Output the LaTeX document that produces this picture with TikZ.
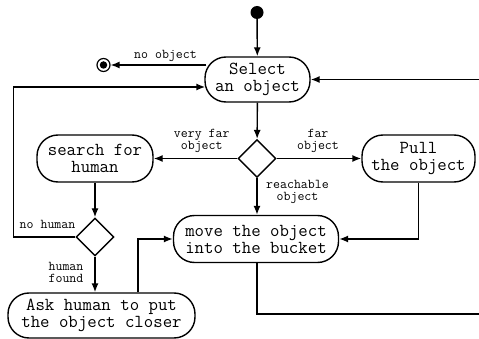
\documentclass[tikz,border=0pt]{standalone}
\usetikzlibrary{shapes.geometric,arrows.meta,calc}
\begin{document}
\begin{tikzpicture}[x=1pt,y=-1pt,
 act/.style={draw,line width=1.4pt,rounded corners=21pt,align=center,font=\ttfamily\fontsize{18.3}{17}\selectfont,inner sep=0pt},
 dec/.style={draw,diamond,line width=1.4pt,minimum width=38pt,minimum height=38pt,inner sep=0pt},
 lab/.style={font=\ttfamily\fontsize{13.5}{12}\selectfont,align=center,inner sep=0pt},
 arr/.style={line width=1.4pt,-{Latex[length=9pt,width=7pt]}},
 con/.style={line width=1.4pt}]
\useasboundingbox (0,0) rectangle (479,339);
\clip (0,0) rectangle (479,339);

\node[circle,fill,inner sep=0pt,minimum size=13pt] (start) at (257,12.5) {};
\node[circle,draw,line width=1.2pt,inner sep=0pt,minimum size=13pt] (endn) at (103.5,65) {};
\node[circle,fill,inner sep=0pt,minimum size=7.5pt] (endin) at (endn) {};

\node[act,minimum width=105pt,minimum height=45pt] (select) at (257.5,79.5) {Select\\an object};
\node[dec] (d1) at (257,158.5) {};
\node[act,minimum width=116pt,minimum height=47pt] (search) at (95,158.5) {search for\\human};
\node[act,minimum width=113pt,minimum height=47pt] (pull) at (418.5,158.5) {Pull\\the object};
\node[act,minimum width=165pt,minimum height=47pt] (move) at (256,239) {move the object\\into the bucket};
\node[dec] (d2) at (95,237) {};
\node[act,minimum width=187pt,minimum height=45pt] (ask) at (101.5,315.5) {Ask human to put\\the object closer};

\coordinate (selout) at ($(select.west)+(2,-14.5)$);
\coordinate (selin) at ($(select.west)+(1,7.5)$);
\coordinate (askup) at ($(ask.north)+(36.5,0)$);
\coordinate (loopB) at (490,314);

\draw[arr] (start) -- (select);
\draw[arr] (selout) -- (endn);
\draw[arr] (select) -- (d1);
\draw[arr] (d1) -- (search);
\draw[arr] (d1) -- (pull);
\draw[arr] (d1.south) -- (d1.south |- move.north);
\draw[arr] (search) -- (d2);
\draw[arr] (d2) -- (ask.north -| d2);
\draw[arr] (d2.west) -- ++(-62,0) |- (selin);
\draw[arr] (askup) |- (move.west);
\draw[arr] (pull.south) |- (move.east);
\draw[arr] (d1.south |- move.south) |- (loopB) |- (select.east);

\node[lab] (l1) at (165.5,55.5) {no object};
\node[lab] (l2) at (201.7,140.5) {very far\\object};
\node[lab] (l3) at (318,140.5) {far\\object};
\node[lab] (l4) at (297.5,192) {reachable\\object};
\node[lab] (l5) at (47.5,224) {no human};
\node[lab,align=right] (l6) at (66,272) {human\\found};
\end{tikzpicture}
\end{document}
